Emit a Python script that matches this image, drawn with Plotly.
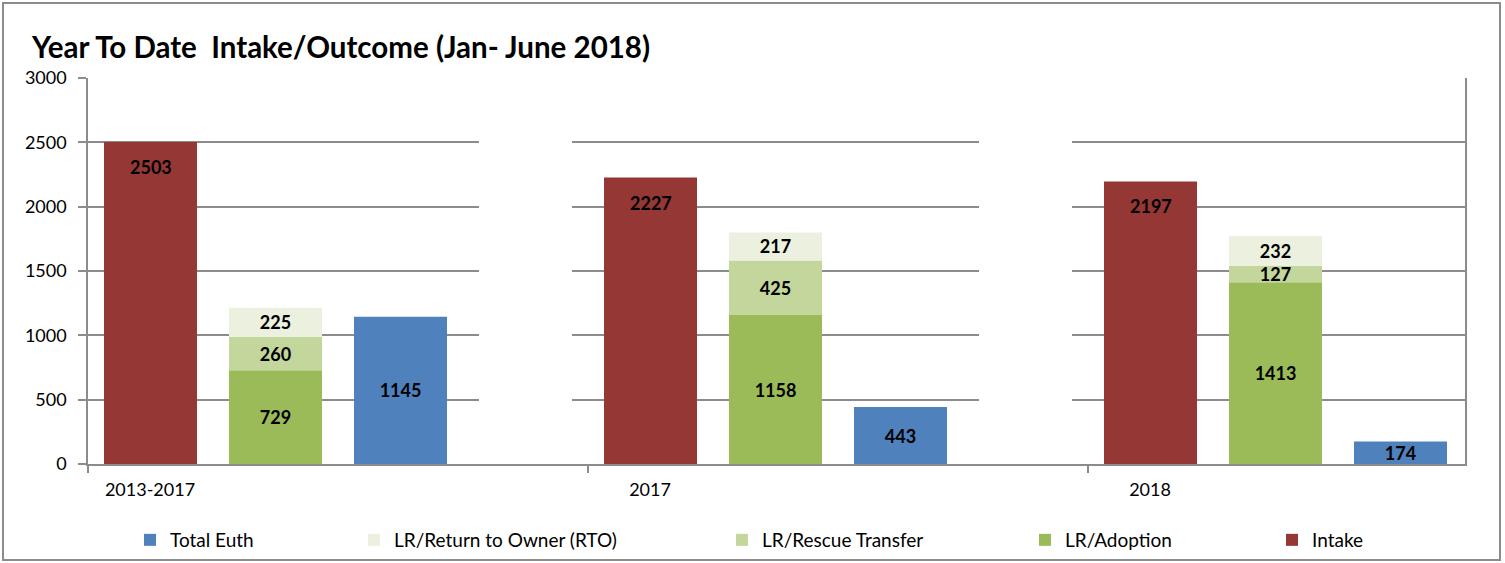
import plotly.graph_objects as go

# ---- data ----
categories = ["2013-2017", "2017", "2018"]
intake = [2503, 2227, 2197]
lr_adoption = [729, 1158, 1413]
lr_rescue = [260, 425, 127]
lr_rto = [225, 217, 232]
total_euth = [1145, 443, 174]
y_max = 3000

# ---- layout constants ----
W, H = 1505, 563
L, R, T, B = 88, 40, 78, 99
SLOT_PX = 125          # width of one bar slot (4 slots per category)
FONT = "Lato"
C_INTAKE = "#953735"
C_ADOPT = "#9BBB59"
C_RESCUE = "#C3D69B"
C_RTO = "#EBF1DE"
C_EUTH = "#4F81BD"
GRID = "#8C8C8C"

label_font = dict(family=FONT, size=18, color="black", weight="bold")

def bar(name, y, color, group, base=None, legend=None, show_text=True):
    return go.Bar(
        x=categories, y=y, base=base, name=name, offsetgroup=group,
        marker=dict(color=color, line=dict(width=0)),
        text=[str(v) for v in y] if show_text else None, textposition="inside",
        insidetextanchor="middle", textangle=0, constraintext="none",
        textfont=label_font, hoverinfo="skip", legend=legend,
    )

base_rescue = lr_adoption
base_rto = [a + b for a, b in zip(lr_adoption, lr_rescue)]

fig = go.Figure()
fig.add_trace(bar("Intake", intake, C_INTAKE, "1", legend="legend5", show_text=False))
fig.add_trace(bar("LR/Adoption", lr_adoption, C_ADOPT, "2", legend="legend4"))
fig.add_trace(bar("LR/Rescue Transfer", lr_rescue, C_RESCUE, "2", base=base_rescue, legend="legend3"))
fig.add_trace(bar("LR/Return to Owner (RTO)", lr_rto, C_RTO, "2", base=base_rto, legend="legend2"))
fig.add_trace(bar("Total Euth", total_euth, C_EUTH, "3", legend="legend"))
# empty fourth slot of each cluster (white, hides gridlines like the original)
fig.add_trace(go.Bar(x=categories, y=[y_max] * len(categories), offsetgroup="4",
                     marker=dict(color="white", line=dict(width=0)),
                     showlegend=False, hoverinfo="skip"))

# intake labels: "inside end" position, like the original
for i, v in enumerate(intake):
    fig.add_annotation(x=i, y=v, text=str(v), showarrow=False,
                       xshift=-1.5 * SLOT_PX, yshift=-25, yanchor="middle",
                       font=label_font)

pw = W - L - R
ph = H - T - B
x_lo = -0.5
x_hi = x_lo + pw / (4 * SLOT_PX)

fig.update_layout(
    width=W, height=H,
    margin=dict(l=L, r=R, t=T, b=B, autoexpand=False),
    paper_bgcolor="white", plot_bgcolor="white",
    barmode="group", bargap=0, bargroupgap=1 - 93 / SLOT_PX,
    font=dict(family=FONT, size=18, color="black"),
    title=dict(text="Year To Date  Intake/Outcome (Jan- June 2018)",
               xref="container", yref="container",
               x=32 / W, xanchor="left", y=1 - 48 / H, yanchor="middle",
               pad=dict(l=0, r=0, t=0, b=0),
               font=dict(family=FONT, size=29.5, color="black", weight="bold")),
    xaxis=dict(type="category", range=[x_lo, x_hi], tickson="boundaries",
               ticks="outside", ticklen=7, tickcolor=GRID, tickwidth=1.5,
               showline=True, linecolor=GRID, linewidth=1.5, automargin=False,
               showgrid=False, ticklabelshift=int(round(-1.5 * SLOT_PX)), ticklabelstandoff=9,
               tickfont=dict(family=FONT, size=18)),
    yaxis=dict(range=[0, y_max * 1.0004], tickvals=[0, 500, 1000, 1500, 2000, 2500, 3000],
               ticks="outside", ticklen=8, automargin=False,
               tickcolor=GRID, tickwidth=1.5, showline=True, linecolor=GRID,
               linewidth=1.5, mirror=True, showgrid=True, gridcolor=GRID,
               gridwidth=1.5, zeroline=False, ticklabelstandoff=8,
               tickfont=dict(family=FONT, size=18)),
)

legend_names = ["legend", "legend2", "legend3", "legend4", "legend5"]
legend_left = [148, 372, 740, 1043, 1290]
for ln, lx in zip(legend_names, legend_left):
    fig.update_layout({ln: dict(orientation="h", xref="container", yref="container",
                                x=(lx - 18) / W, xanchor="left",
                                y=1 - 540 / H, yanchor="middle",
                                font=dict(family=FONT, size=19, color="black"),
                                bgcolor="rgba(0,0,0,0)")})

# outer frame around the whole chart
fig.add_shape(type="rect", xref="paper", yref="paper",
              x0=(3 - L) / pw, x1=(W - 5 - L) / pw,
              y0=-(560 - (H - B)) / ph, y1=1 + (T - 3) / ph,
              line=dict(color="#8C8C8C", width=2), fillcolor="rgba(0,0,0,0)")

fig.write_html("out.html", config={"displayModeBar": False},
               post_script="document.body.style.margin='0';")
